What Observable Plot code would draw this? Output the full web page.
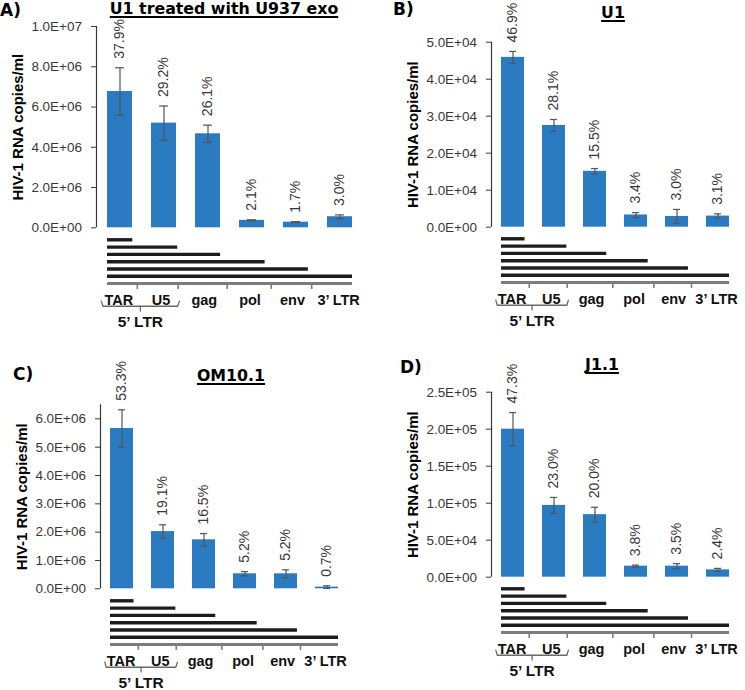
<!DOCTYPE html>
<html><head><meta charset="utf-8">
<script src="https://cdn.jsdelivr.net/npm/d3@7"></script>
<script src="https://cdn.jsdelivr.net/npm/@observablehq/plot@0.6"></script>
<style>
body{margin:0;background:#fff;}
#root{position:relative;width:745px;height:690px;overflow:hidden;font-family:"Liberation Sans",Arial,sans-serif;background:#fff;}
.panel{position:absolute;}
.panel svg{position:absolute;left:0;overflow:visible;max-width:none;}
.lbl{position:absolute;font-family:"DejaVu Sans";font-weight:bold;white-space:nowrap;line-height:1;color:#000;}
.letter{font-size:17px;}
.title{font-size:15.8px;text-decoration:underline;text-decoration-thickness:1.5px;text-underline-offset:2px;text-decoration-skip-ink:none;transform:translateX(-50%);}
</style></head><body><div id="root"></div>
<script>
// ---------- data ----------
const categories = ["TAR", "U5", "gag", "pol", "env", "3’ LTR"];
const panelLetters = ["A)", "B)", "C)", "D)"];
const panelTitles = ["U1 treated with U937 exo", "U1", "OM10.1", "J1.1"];
const yLabel = "HIV-1 RNA copies/ml";

const valuesA = [6.77e6, 5.2e6, 4.67e6, 0.37e6, 0.28e6, 0.55e6];
const errorsA = [1.18e6, 0.85e6, 0.43e6, 0.03e6, 0.025e6, 0.09e6];
const percentsA = ["37.9%", "29.2%", "26.1%", "2.1%", "1.7%", "3.0%"];
const ticksA = [0, 2e6, 4e6, 6e6, 8e6, 1e7];
const yMaxA = 1e7;

const valuesB = [4.59e4, 2.75e4, 1.51e4, 0.33e4, 0.29e4, 0.30e4];
const errorsB = [0.16e4, 0.16e4, 0.075e4, 0.065e4, 0.19e4, 0.06e4];
const percentsB = ["46.9%", "28.1%", "15.5%", "3.4%", "3.0%", "3.1%"];
const ticksB = [0, 1e4, 2e4, 3e4, 4e4, 5e4];
const yMaxB = 5e4;

const valuesC = [5.66e6, 2.02e6, 1.73e6, 0.53e6, 0.53e6, 0.06e6];
const errorsC = [0.66e6, 0.24e6, 0.22e6, 0.075e6, 0.14e6, 0.045e6];
const percentsC = ["53.3%", "19.1%", "16.5%", "5.2%", "5.2%", "0.7%"];
const ticksC = [0, 1e6, 2e6, 3e6, 4e6, 5e6, 6e6];
const yMaxC = 6.5e6;

const valuesD = [2.0e5, 0.97e5, 0.845e5, 0.149e5, 0.149e5, 0.099e5];
const errorsD = [0.225e5, 0.108e5, 0.10e5, 0.014e5, 0.034e5, 0.02e5];
const percentsD = ["47.3%", "23.0%", "20.0%", "3.8%", "3.5%", "2.4%"];
const ticksD = [0, 5e4, 1e5, 1.5e5, 2e5, 2.5e5];
const yMaxD = 2.5e5;

// genome map (units: map length 6)
const genomeLength = 6;
const transcriptEnds = [0.62, 1.72, 2.77, 3.86, 4.92, 6.0];
const segmentBoundaries = [0.73, 1.73, 2.93, 4.01, 5.0];
const segmentLabelPos = [0.28, 1.31, 2.37, 3.49, 4.53, 5.66];
const ltrSpan = [-0.15, 1.76];
const ltrLabel = "5’ LTR";

// ---------- layout (panel-local pixels) ----------
const layout = [
  {left: 0,   top: 0,   width: 372, axisX: 96,  yTop: 26,   y0: 227.3, xEnd: 364,
   letter: [0, 16], title: [224, 14.5]},
  {left: 372, top: 0,   width: 373, axisX: 119, yTop: 41.7, y0: 226.7, xEnd: 368,
   letter: [393, 15], title: [613, 18.3]},
  {left: 0,   top: 340, width: 372, axisX: 100, yTop: 64.2, y0: 248.3, xEnd: 347.5,
   letter: [13, 380.7], title: [231, 381.7]},
  {left: 372, top: 340, width: 373, axisX: 119, yTop: 51.7, y0: 236.7, xEnd: 367,
   letter: [400, 373], title: [602, 370]}
];
const series = [
  [valuesA, errorsA, percentsA, ticksA, yMaxA],
  [valuesB, errorsB, percentsB, ticksB, yMaxB],
  [valuesC, errorsC, percentsC, ticksC, yMaxC],
  [valuesD, errorsD, percentsD, ticksD, yMaxD]
];

const sci = v => {
  if (v === 0) return "0.0E+00";
  const e = Math.floor(Math.log10(v) + 1e-9);
  return (v / 10 ** e).toFixed(1) + "E+" + String(e).padStart(2, "0");
};

const root = document.getElementById("root");
const BAR = "#2a7bc1", ERR = "#555555", AX = "#383838", GRAY = "#7c7c7c";
const ROW = 7.3, ROWS = 15;
const genomeRow = 7, labelRow = 9.25, bracketRow = 10.1, ltrLabelRow = 12.3;

layout.forEach((L, p) => {
  const [vals, errs, pcts, ticks, yMax] = series[p];
  const rows = categories.map((c, i) => ({cat: c, value: vals[i], err: errs[i], pct: pcts[i]}));
  const W = L.width;
  const div = document.createElement("div");
  div.className = "panel";
  div.style.left = L.left + "px"; div.style.top = L.top + "px";
  div.style.width = W + "px"; div.style.height = (p < 2 ? 340 : 350) + "px";
  root.appendChild(div);

  const bars = Plot.plot({
    width: W, height: L.y0 + 2,
    marginLeft: L.axisX, marginRight: W - L.xEnd, marginTop: L.yTop, marginBottom: 2,
    x: {domain: categories, paddingInner: 0.43, paddingOuter: 0.215, axis: null},
    y: {domain: [0, yMax], axis: null},
    style: {fontFamily: "Liberation Sans, Arial, sans-serif", background: "none", overflow: "visible"},
    marks: [
      Plot.axisY({ticks, tickFormat: sci, tickSize: 5, tickPadding: 9.5, fontSize: 13.5, color: AX, label: null}),
      Plot.ruleX([0], {x: null, y1: 0, y2: yMax, dx: -(L.xEnd - L.axisX) / 2, stroke: AX, strokeWidth: 1.2}),
      Plot.barY(rows, {x: "cat", y: "value", fill: BAR}),
      Plot.ruleX(rows, {x: "cat", y1: d => d.value - d.err, y2: d => d.value + d.err, stroke: ERR, strokeWidth: 1.2}),
      Plot.tickY(rows, {x: "cat", y: d => d.value + d.err, insetLeft: 8, insetRight: 8, stroke: ERR, strokeWidth: 1.2}),
      Plot.tickY(rows, {x: "cat", y: d => d.value - d.err, insetLeft: 8, insetRight: 8, stroke: ERR, strokeWidth: 1.2}),
      Plot.text(rows, {x: "cat", y: d => d.value + d.err, text: "pct", rotate: -90, textAnchor: "start",
        lineAnchor: "middle", dy: -9, fontSize: 14, fill: AX}),
      Plot.text([yLabel], {frameAnchor: "left", text: d => d, rotate: -90, dx: -78, textAnchor: "middle",
        lineAnchor: "middle", fontWeight: "bold", fontSize: 15, fill: "#000"})
    ]
  });
  bars.style.top = "0px";
  div.appendChild(bars);

  const xs = bars.scale("x");
  const dStart = xs.apply(categories[0]);
  const dEnd = xs.apply(categories[categories.length - 1]) + xs.bandwidth;
  const transcripts = transcriptEnds.map((e, i) => ({row: i + 1, start: 0, end: e}));
  const genome = [{row: genomeRow, start: 0, end: genomeLength}];
  const segs = categories.map((c, i) => ({name: c, pos: segmentLabelPos[i]}));
  const bracket = [
    {x: ltrSpan[0], y: bracketRow - 0.7}, {x: ltrSpan[0] + 0.04, y: bracketRow},
    {x: ltrSpan[1] - 0.04, y: bracketRow}, {x: ltrSpan[1], y: bracketRow - 0.7}
  ];
  const ltrCenter = (ltrSpan[0] + ltrSpan[1]) / 2;

  const diagram = Plot.plot({
    width: W, height: ROWS * ROW,
    marginLeft: dStart, marginRight: W - dEnd, marginTop: 0, marginBottom: 0,
    x: {domain: [0, genomeLength], axis: null},
    y: {domain: [0, ROWS], range: [0, ROWS * ROW], axis: null},
    style: {fontFamily: "Liberation Sans, Arial, sans-serif", background: "none", overflow: "visible"},
    marks: [
      Plot.ruleY(transcripts, {y: "row", x1: "start", x2: "end", stroke: "#1c1c1c", strokeWidth: 3.4}),
      Plot.ruleY(genome, {y: "row", x1: "start", x2: "end", stroke: GRAY, strokeWidth: 3}),
      Plot.ruleX(segmentBoundaries, {x: d => d, y1: genomeRow, y2: genomeRow + 0.8, stroke: GRAY, strokeWidth: 1.6}),
      Plot.text(segs, {x: "pos", y: labelRow, text: "name", fontWeight: "bold", fontSize: 14.5, fill: "#111"}),
      Plot.line(bracket, {x: "x", y: "y", stroke: "#6a6a6a", strokeWidth: 1.3}),
      Plot.ruleX([ltrCenter], {x: d => d, y1: bracketRow, y2: bracketRow + 0.8, stroke: "#6a6a6a", strokeWidth: 1.3}),
      Plot.text([ltrLabel], {x: ltrCenter, y: ltrLabelRow, text: d => d, fontWeight: "bold", fontSize: 15.5, fill: "#111"})
    ]
  });
  diagram.style.top = (L.y0 + 4.4) + "px";
  div.appendChild(diagram);

  // letter + title (page coordinates)
  const lt = document.createElement("div");
  lt.className = "lbl letter";
  lt.textContent = panelLetters[p];
  lt.style.left = L.letter[0] + "px";
  lt.style.top = (L.letter[1] - 0.846 * 17) + "px";
  root.appendChild(lt);
  const tt = document.createElement("div");
  tt.className = "lbl title";
  tt.textContent = panelTitles[p];
  tt.style.left = L.title[0] + "px";
  tt.style.top = (L.title[1] - 0.846 * 15.8) + "px";
  root.appendChild(tt);
});
</script></body></html>
